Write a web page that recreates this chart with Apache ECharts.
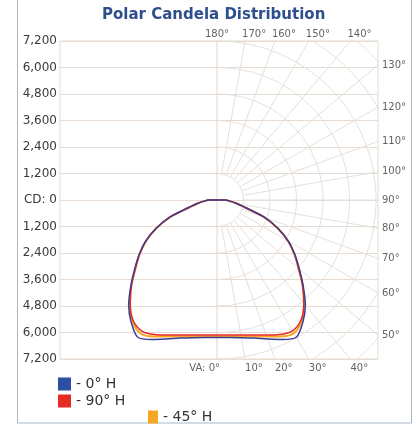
<!DOCTYPE html>
<html lang="en">
<head>
<meta charset="UTF-8">
<title>Polar Candela Distribution</title>
<script src="https://cdn.jsdelivr.net/npm/echarts@6/dist/echarts.min.js"></script>
<style>
    html, body { margin: 0; padding: 0; background: #fff; }
    #main { width: 419px; height: 424px; }
</style>
</head>
<body>
<div id="main"></div>
<script type="text/javascript">
    // vertical angles (deg from nadir), candela per horizontal plane
    var angles = [0, 5, 10, 15, 20, 25, 30, 35, 40, 45, 50, 55, 60, 65, 70, 75, 80, 85, 90,
                  95, 100, 105, 110, 115, 120, 125, 130, 135, 140, 145, 150, 155, 160, 165, 170, 175, 180];
    var cd0H  = [6226, 6249, 6330, 6475, 6697, 6969, 7177, 6769, 6226, 5524, 4868, 4302, 3740, 3050, 2280, 1320, 910, 590, 365,
                 0, 0, 0, 0, 0, 0, 0, 0, 0, 0, 0, 0, 0, 0, 0, 0, 0, 0];
    var cd90H = [6113, 6135, 6203, 6330, 6507, 6720, 6837, 6634, 6113, 5480, 4822, 4279, 3713, 3034, 2264, 1313, 906, 589, 362,
                 0, 0, 0, 0, 0, 0, 0, 0, 0, 0, 0, 0, 0, 0, 0, 0, 0, 0];
    var cd45H = [6181, 6204, 6276, 6398, 6579, 6819, 6964, 6679, 6135, 5480, 4822, 4279, 3713, 3034, 2264, 1313, 906, 589, 362,
                 0, 0, 0, 0, 0, 0, 0, 0, 0, 0, 0, 0, 0, 0, 0, 0, 0, 0];

    // polar grid
    var rings = [1200, 2400, 3600, 4800, 6000, 7200, 8400, 9600, 10800];
    var spokes = [10, 20, 30, 40, 50, 60, 70, 80, 90, 100, 110, 120, 130, 140, 150, 160, 170];
    var vaTicks = [0, 10, 20, 30, 40, 50, 60, 70, 80, 90, 100, 110, 120, 130, 140, 150, 160, 170, 180];

    var xMin = -7110, xMax = 7290, yMax = 7200;
    var rad = Math.PI / 180;

    function pt(r, a) {
        return [r * Math.sin(a * rad), -r * Math.cos(a * rad)];
    }

    // left half mirrored, then right half
    function curve(cd) {
        var out = [];
        for (var i = angles.length - 1; i >= 0; i--) {
            var p = pt(cd[i], angles[i]);
            out.push([-p[0], p[1]]);
        }
        for (var j = 0; j < angles.length; j++) out.push(pt(cd[j], angles[j]));
        return out;
    }

    var gridColor = '#e3e0dc';
    var series = [];

    rings.forEach(function (r) {
        var d = [];
        for (var a = 0; a <= 180; a += 2) d.push(pt(r, a));
        series.push({ type: 'line', data: d, showSymbol: false, silent: true,
            lineStyle: { color: gridColor, width: 1 } });
    });
    spokes.forEach(function (a) {
        series.push({ type: 'line', data: [pt(1200, a), pt(12000, a)], showSymbol: false, silent: true,
            lineStyle: { color: gridColor, width: 1 } });
    });
    series.push({ type: 'line', data: [[0, -yMax], [0, yMax]], showSymbol: false, silent: true,
        lineStyle: { color: '#e4d5ca', width: 1 } });

    // angle labels where each spoke meets the plot border
    var lblData = vaTicks.map(function (a) {
        var s = Math.sin(a * rad), c = Math.cos(a * rad);
        var t = 1e9;
        if (s > 1e-6) t = Math.min(t, xMax / s);
        if (Math.abs(c) > 1e-6) t = Math.min(t, yMax / Math.abs(c));
        var p = [t * s, -t * c];
        var lbl;
        if (a === 0) lbl = { position: 'bottom', distance: 4, align: 'right', offset: [3, 0], formatter: 'VA: 0°' };
        else if (a <= 40) lbl = { position: 'bottom', distance: 4, align: 'left', offset: [0, 0] };
        else if (a <= 130) lbl = { position: 'right', distance: 4, align: 'left' };
        else if (a === 180) lbl = { position: 'top', distance: 2, align: 'center' };
        else lbl = { position: 'top', distance: 2, align: 'left', offset: [-3, 0] };
        return { value: p, name: a + '°', label: lbl };
    });
    series.push({
        type: 'scatter', data: lblData, symbolSize: 0, silent: true, clip: false,
        label: { show: true, formatter: '{b}', color: '#3a3a3a', fontSize: 10, fontFamily: 'DejaVu Sans' }
    });

    series.push({ name: '45° H', type: 'line', data: curve(cd45H), showSymbol: false, smooth: 0.3,
        lineStyle: { color: '#f5a623', width: 2 }, itemStyle: { color: '#f5a623' } });
    series.push({ name: '90° H', type: 'line', data: curve(cd90H), showSymbol: false, smooth: 0.3,
        lineStyle: { color: '#e52b24', width: 1.5 }, itemStyle: { color: '#e52b24' } });
    series.push({ name: '0° H', type: 'line', data: curve(cd0H), showSymbol: false, smooth: 0.3,
        lineStyle: { color: '#3a3f95', width: 1.5 }, itemStyle: { color: '#2c4fa3' } });

    var legendBase = {
        icon: 'rect', itemWidth: 13, itemHeight: 13, padding: 0, itemGap: 0,
        formatter: '- {name}', selectedMode: false,
        textStyle: { fontSize: 14, color: '#333', fontFamily: 'DejaVu Sans' }
    };

    var myChart = echarts.init(document.getElementById('main'));
    var option = {
        animation: false,
        title: {
            text: 'Polar Candela Distribution', left: 102, top: 8, padding: 0,
            textStyle: { fontSize: 15, fontWeight: 'bold', color: '#2e4e8e', fontFamily: 'DejaVu Sans' }
        },
        legend: [
            Object.assign({}, legendBase, { left: 58, top: 377, data: ['0° H'] }),
            Object.assign({}, legendBase, { left: 58, top: 394, data: ['90° H'] }),
            Object.assign({}, legendBase, { left: 148, top: 410, itemWidth: 10, data: ['45° H'] })
        ],
        grid: { left: 60, top: 41, width: 318, height: 318, show: true, borderColor: '#e3dbd3', borderWidth: 1 },
        xAxis: {
            type: 'value', min: xMin, max: xMax,
            axisLine: { show: false }, axisTick: { show: false }, axisLabel: { show: false }, splitLine: { show: false }
        },
        yAxis: {
            type: 'value', min: -yMax, max: yMax, interval: 1200,
            axisLine: { show: false }, axisTick: { show: false },
            splitLine: { lineStyle: { color: '#e8dcd2' } },
            axisLabel: {
                margin: 3, color: '#3a3a3a', fontSize: 12, fontFamily: 'DejaVu Sans',
                formatter: function (v) {
                    if (v === 0) return 'CD: 0';
                    return String(Math.abs(v)).replace(/\B(?=(\d{3})+(?!\d))/g, ',');
                }
            }
        },
        graphic: [{
            type: 'rect', shape: { x: 17.5, y: -1, width: 394, height: 424 },
            style: { fill: 'none', stroke: '#a9b7c9', lineWidth: 1 }, silent: true
        }],
        series: series
    };
    myChart.setOption(option);
</script>
</body>
</html>
